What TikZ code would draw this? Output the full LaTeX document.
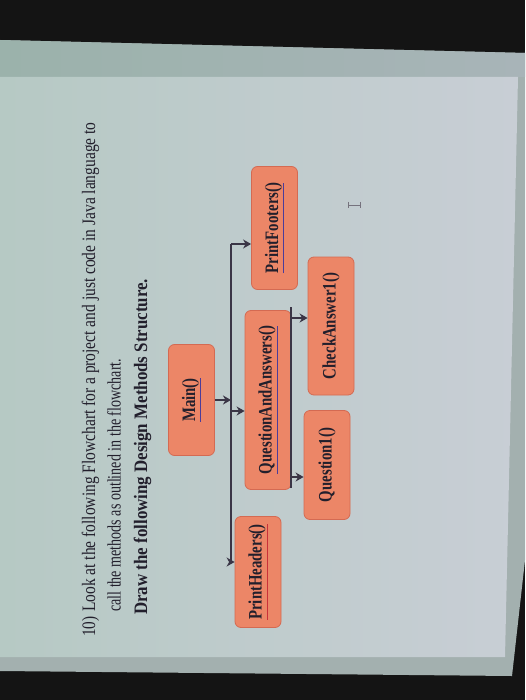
\documentclass[tikz,border=0pt]{standalone}
\usepackage{fontspec}
\setmainfont{Liberation Serif}
\usepackage{tikz}
\usetikzlibrary{positioning}
\usetikzlibrary{arrows.meta}

\definecolor{ink}{HTML}{221F2C}
\definecolor{wire}{HTML}{3A3546}
\definecolor{boxfill}{HTML}{EC8667}
\definecolor{boxedge}{HTML}{D46A52}
\definecolor{mark}{HTML}{4B3C9A}
\definecolor{spell}{HTML}{C8313A}
\definecolor{screen}{HTML}{A3B0AF}
\definecolor{bandleft}{HTML}{9BB2AB}
\definecolor{bandright}{HTML}{A8B4B8}
\definecolor{paperleft}{HTML}{B6C9C4}
\definecolor{papermid}{HTML}{CFD6D9}
\definecolor{paperright}{HTML}{C8CED5}

\newcommand{\squeezed}[2][0.74]{\scalebox{#1}[1]{#2}}
\newcommand{\marked}[2]{{\color{#1}\underline{\color{ink}#2}}}

\tikzset{
  method/.style={draw=boxedge, fill=boxfill, rounded corners=6pt, rotate=90,
    line width=0.8pt, inner sep=0pt, minimum height=46pt, text=ink,
    font=\fontsize{19}{21}\selectfont\bfseries},
  para/.style={rotate=90, anchor=base west, inner sep=0pt, text=ink,
    font=\fontsize{19}{22}\selectfont},
  link/.style={->, line width=1.6pt, draw=wire},
  bus/.style={line width=1.6pt, draw=wire},
  >={Stealth[length=8pt,width=9pt,inset=2.5pt]}
}

\begin{document}
\begin{tikzpicture}[x=1pt, y=-1pt]
  \useasboundingbox (0,0) rectangle (525,700);

  % the photo round the page
  \fill[black!92] (0,0) rectangle (525,700);
  \fill[screen] (0,40) -- (525,53) -- (525,560) -- (512,676) -- (0,671) -- cycle;
  \shade[left color=bandleft, right color=bandright] (0,40) -- (525,53) -- (525,77) -- (0,77) -- cycle;
  \shade[left color=paperleft, middle color=papermid, right color=paperright] (0,77) -- (518,77) -- (505,657) -- (0,657) -- cycle;

  % the question
  \node[para] (num) at (95,637) {\squeezed[0.8]{10)}};
  \node[para] (line1) at (95,612) {\squeezed[0.815]{Look at the following Flowchart for a project and just code in Java language to}};
  \node[para] (line2) at (120.5,612) {\squeezed{call the methods as outlined in the flowchart.}};
  \node[para, font=\fontsize{19}{22}\selectfont\bfseries] (line3) at (147,615) {\squeezed[0.89]{Draw the following Design Methods Structure.}};

  % the methods
  \node[method, minimum width=111pt] (main) at (191.5,400) {\squeezed[0.78]{\marked{mark}{Main()}}};
  \node[method, minimum width=179pt] (qaa) at (268,400) {\squeezed[0.78]{\marked{mark}{QuestionAndAnswers()}}};
  \node[method, minimum width=111pt] (headers) at (258,572) {\squeezed[0.78]{\marked{spell}{PrintHeaders()}}};
  \node[method, minimum width=123pt] (footers) at (274.5,228) {\squeezed[0.78]{\marked{mark}{PrintFooters()}}};
  \node[method, minimum width=109pt] (question) at (327,465) {\squeezed[0.78]{Question1()}};
  \node[method, minimum width=138pt] (check) at (331,326) {\squeezed[0.78]{CheckAnswer1()}};

  \coordinate (bustop) at (231,244);
  \coordinate (busbot) at (231,562);
  \coordinate (qin) at (231,411);
  \coordinate (subtop) at (291,307);
  \coordinate (subbot) at (291,488);
  \coordinate (tocheck) at (291,318);
  \coordinate (toquestion) at (291,477);

  \draw[bus] (bustop) -- (busbot);
  \draw[link] (main.south) -- (main.south -| bustop);
  \draw[link] (bustop) -- (bustop -| footers.north);
  \draw[link] (busbot) -- (busbot -| headers.north);
  \draw[link] (qin) -- (qin -| qaa.north);

  \draw[bus] (subtop) -- (subbot);
  \draw[link] (tocheck) -- (tocheck -| check.north);
  \draw[link] (toquestion) -- (toquestion -| question.north);

  % text cursor
  \draw[wire!70, line width=0.8pt] (348,205) -- (360,205) (348,202) -- (348,208) (360,202) -- (360,208);
\end{tikzpicture}
\end{document}
